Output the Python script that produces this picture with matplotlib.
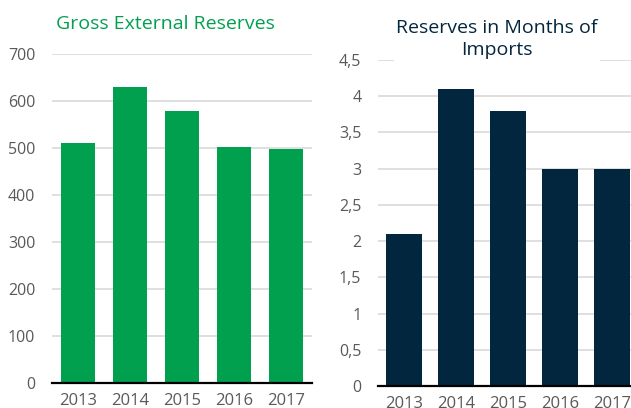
import matplotlib
matplotlib.use("Agg")
import matplotlib.pyplot as plt

plt.rcParams['font.family'] = ['Open Sans', 'DejaVu Sans']

years = ['2013', '2014', '2015', '2016', '2017']
reserves = [511, 630, 579, 502, 498]
months = [2.1, 4.1, 3.8, 3.0, 3.0]
left_ticks = [0, 100, 200, 300, 400, 500, 600, 700]
right_ticks = [0, 0.5, 1, 1.5, 2, 2.5, 3, 3.5, 4, 4.5]
right_labels = ['0', '0,5', '1', '1,5', '2', '2,5', '3', '3,5', '4', '4,5']

W, H = 631, 408
fig = plt.figure(figsize=(W / 100, H / 100), dpi=100)

# axes placed in pixel units (the right one runs past the edge, like the source)
ax = fig.add_axes([52 / W, 25 / H, 260 / W, 329 / H])
ax1 = fig.add_axes([378 / W, 22 / H, 260 / W, 326 / H])

green = '#00A04F'
navy = '#03263F'
grey = '#595959'

ax.bar(years, reserves, width=0.65, color=green, zorder=3)
ax.set_ylim(0, 700)
ax.set_yticks(left_ticks)

ax1.bar(years, months, width=0.68, color=navy, zorder=3)
ax1.set_ylim(0, 4.5)
ax1.set_yticks(right_ticks, right_labels)

for a in (ax, ax1):
    a.set_xlim(-0.5, 4.5)
    a.grid(axis='y', color='#d9d9d9', lw=1.2, zorder=0)
    for s in ('top', 'right', 'left'):
        a.spines[s].set_visible(False)
    a.spines['bottom'].set_color('black')
    a.spines['bottom'].set_linewidth(1.6)
    a.spines['bottom'].set_zorder(4)
    a.tick_params(axis='y', length=0, pad=12, labelsize=11.5, labelcolor=grey)
    a.tick_params(axis='x', length=0, pad=7, labelsize=12, labelcolor=grey)

fig.text(56 / W, 1 - 24 / H, 'Gross External Reserves', color=green,
         fontsize=14, ha='left', va='center')
fig.text(497 / W, 1 - 39 / H, 'Reserves in Months of\nImports', color=navy,
         fontsize=14, ha='center', va='center', linespacing=1.3,
         bbox=dict(facecolor='white', edgecolor='none', pad=2), zorder=10)

fig.savefig('out.png', dpi=100)
